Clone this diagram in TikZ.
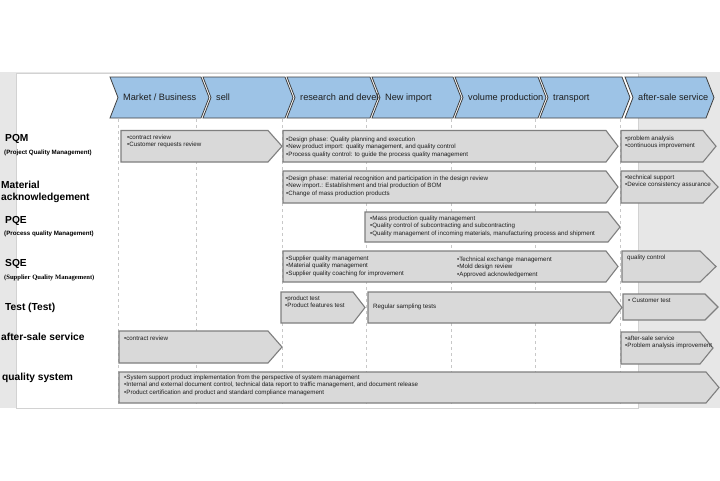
\documentclass[tikz,border=0pt]{standalone}
\usepackage{fontspec}
\setmainfont{Liberation Sans}
\newfontfamily\serifbold{Liberation Serif}
\definecolor{bggray}{HTML}{E7E7E7}
\definecolor{panelline}{HTML}{D2D2D2}
\definecolor{chevfill}{HTML}{9DC3E6}
\definecolor{chevline}{HTML}{404040}
\definecolor{boxfill}{HTML}{D9D9D9}
\definecolor{boxline}{HTML}{7F7F7F}
\definecolor{dashcol}{HTML}{C8C8C8}
\definecolor{txtcol}{HTML}{1E1E1E}
\newcommand\chevron[4]{%
  \filldraw[chevst] (#2,77) -- (#3,77) -- ({#3+8},97.5) -- (#3,118) -- (#2,118) -- ({#2+8},97.5) -- cycle;
  \node[headtxt] (#1) at ({#2+13},100.8) {#4};}
\newcommand\qbox[5]{%
  \filldraw[boxst] (#1,#2) -- (#3,#2) -- (#4,{(#2+#5)/2}) -- (#3,#5) -- (#1,#5) -- cycle;}
\begin{document}
\begin{tikzpicture}[x=1pt,y=-1pt,
  chevst/.style={fill=chevfill,draw=chevline,line width=0.8pt,line join=miter},
  headtxt/.style={anchor=base west,inner sep=0pt,font=\fontsize{9.2}{11}\selectfont,text=txtcol},
  lbl/.style={anchor=base west,inner sep=0pt,font=\fontsize{10.2}{12}\selectfont\bfseries,text=black},
  sublbl/.style={anchor=base west,inner sep=0pt,font=\fontsize{6.2}{7.6}\selectfont\bfseries,text=black},
  sublblserif/.style={anchor=base west,inner sep=0pt,font=\fontsize{6.6}{7.6}\selectfont\serifbold\bfseries,text=black},
  boxst/.style={fill=boxfill,draw=boxline,line width=1.1pt,line join=miter},
  boxtxt/.style={anchor=north west,inner sep=0pt,align=left,font=\fontsize{6.2}{7.6}\selectfont,text=txtcol},
  dashline/.style={draw=dashcol,line width=0.6pt,dash pattern=on 3pt off 3pt}]
\useasboundingbox (0,0) rectangle (720,480);
\fill[white] (0,0) rectangle (720,480);
\fill[bggray] (0,72) rectangle (720,408);
\filldraw[fill=white,draw=panelline,line width=0.6pt] (16,73.5) rectangle (638.5,408);
% header chevrons
\chevron{hmarket}{110}{201}{Market / Business}
\chevron{hsell}{203}{285}{sell}
\chevron{hresearch}{287}{370}{research and develo}
\chevron{hnew}{372}{453}{New import}
\chevron{hvolume}{455}{538}{volume production}
\chevron{htransport}{540}{622}{transport}
\chevron{hafter}{625}{706}{after-sale service}
% dashed columns
\foreach \x in {118,196,282,366,451,535,620} \draw[dashline] (\x,119) -- (\x,405);
% row labels
\node[lbl] (lpqm) at (5,141.6) {PQM};
\node[sublbl] (lpqms) at (4,154.4) {(Project Quality Management)};
\node[lbl] (lmat1) at (1,188.6) {Material};
\node[lbl] (lmat2) at (1,200.6) {acknowledgement};
\node[lbl] (lpqe) at (5,223.6) {PQE};
\node[sublbl] (lpqes) at (4,235.4) {(Process quality Management)};
\node[lbl] (lsqe) at (5,266.6) {SQE};
\node[sublblserif] (lsqes) at (4,279.4) {(Supplier Quality Management)};
\node[lbl] (ltest) at (5,310.6) {Test (Test)};
\node[lbl] (lafter) at (1,340.4) {after-sale service};
\node[lbl] (lqs) at (2,380.6) {quality system};
% PQM row
\qbox{121}{130.5}{268}{282}{162}
\node[boxtxt] (pqmA) at (127,134.5) {•contract review\\•Customer requests review};
\qbox{283}{130.5}{606}{618}{162}
\node[boxtxt] (pqmB) at (286,136.5) {•Design phase: Quality planning and execution\\•New product import: quality management, and quality control\\•Process quality control: to guide the process quality management};
\qbox{621}{130.5}{703}{716}{162}
\node[boxtxt] (pqmC) at (625,135.5) {•problem analysis\\•continuous improvement};
% Material row
\qbox{283}{171}{606}{618}{203}
\node[boxtxt] (matB) at (286,175.5) {•Design phase: material recognition and participation in the design review\\•New import.: Establishment and trial production of BOM\\•Change of mass production products};
\qbox{621}{171}{703}{718}{203}
\node[boxtxt] (matC) at (625,174.5) {•technical support\\•Device consistency assurance};
% PQE row
\qbox{365}{212}{608}{620}{242}
\node[boxtxt] (pqeB) at (370,215.5) {•Mass production quality management\\•Quality control of subcontracting and subcontracting\\•Quality management of incoming materials, manufacturing process and shipment};
% SQE row
\qbox{283}{251}{606}{618}{282}
\node[boxtxt] (sqeB) at (286,255.5) {•Supplier quality management\\•Material quality management\\•Supplier quality coaching for improvement};
\node[boxtxt] (sqeB2) at (457,256.5) {•Technical exchange management\\•Mold design review\\•Approved acknowledgement};
\qbox{622}{251}{700}{716}{282}
\node[boxtxt] (sqeC) at (627,254.5) {quality control};
% Test row
\qbox{281}{292}{353}{365}{323}
\node[boxtxt] (testA) at (285,295.5) {•product test\\•Product features test};
\qbox{368}{292}{610}{622}{323}
\node[boxtxt] (testB) at (373,303.5) {Regular sampling tests};
\qbox{623}{294}{705}{718}{320}
\node[boxtxt] (testC) at (628,297.5) {• Customer test};
% after-sale row
\qbox{119}{331}{268}{282}{363}
\node[boxtxt] (aftA) at (124,335.5) {•contract review};
\qbox{621}{332}{700}{713}{364}
\node[boxtxt] (aftC) at (625,335.5) {•after-sale service\\•Problem analysis improvement};
% quality system row
\qbox{119}{372}{706}{719}{403}
\node[boxtxt] (qsB) at (124,374.5) {•System support product implementation from the perspective of system management\\•Internal and external document control, technical data report to traffic management, and document release\\•Product certification and product and standard compliance management};
\end{tikzpicture}
\end{document}
